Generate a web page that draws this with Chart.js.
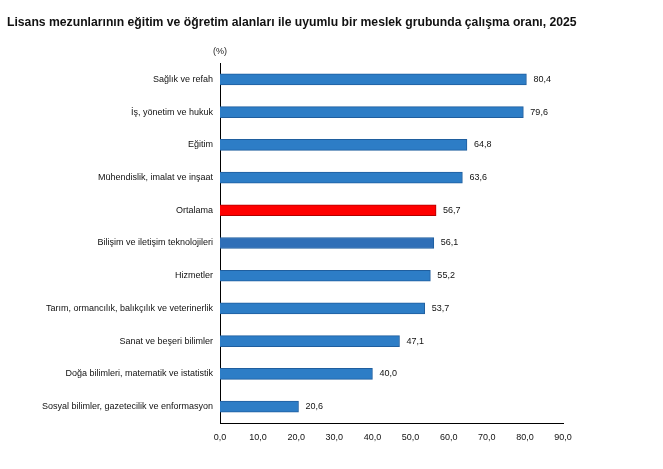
<!DOCTYPE html>
<html>
<head>
<meta charset="utf-8">
<script src="https://cdn.jsdelivr.net/npm/chart.js@4"></script>
<style>
  html, body { margin: 0; padding: 0; background: #fff; }
  #wrap { position: relative; width: 663px; height: 469px; overflow: hidden; }
  #title { position: absolute; left: 7px; top: 15px; font: bold 12.2px "Liberation Sans", Arial, sans-serif; color: #111; white-space: nowrap; }
  #unit { position: absolute; left: 213px; top: 46px; font: 9px "Liberation Sans", Arial, sans-serif; color: #222; }
  canvas { position: absolute; left: 0; top: 0; }
</style>
</head>
<body>
<div id="wrap">
  <canvas id="c" width="663" height="469"></canvas>
  <div id="title">Lisans mezunlarının eğitim ve öğretim alanları ile uyumlu bir meslek grubunda çalışma oranı, 2025</div>
  <div id="unit">(%)</div>
</div>
<script>
const categories = [
  "Sağlık ve refah",
  "İş, yönetim ve hukuk",
  "Eğitim",
  "Mühendislik, imalat ve inşaat",
  "Ortalama",
  "Bilişim ve iletişim teknolojileri",
  "Hizmetler",
  "Tarım, ormancılık, balıkçılık ve veterinerlik",
  "Sanat ve beşeri bilimler",
  "Doğa bilimleri, matematik ve istatistik",
  "Sosyal bilimler, gazetecilik ve enformasyon"
];
const values = [80.4, 79.6, 64.8, 63.6, 56.7, 56.1, 55.2, 53.7, 47.1, 40.0, 20.6];
const xTicks = [0, 10, 20, 30, 40, 50, 60, 70, 80, 90];

const BLUE = "#2D7DC6", BLUE_BORDER = "#1F5E9E";
const BLUE_DARK = "#2F6FB7";
const RED = "#FF0000", RED_BORDER = "#B00000";

function fillFor(label) {
  if (label === "Ortalama") return RED;
  if (label.startsWith("Bilişim")) return BLUE_DARK;
  return BLUE;
}
function borderFor(label) {
  return label === "Ortalama" ? RED_BORDER : BLUE_BORDER;
}
const fmt = v => Number(v).toFixed(1).replace(".", ",");
const FONT = "'Liberation Sans', Arial, sans-serif";

const valueLabels = {
  id: "valueLabels",
  afterDatasetsDraw(chart) {
    const ctx = chart.ctx;
    const meta = chart.getDatasetMeta(0);
    ctx.save();
    ctx.font = "9px " + FONT;
    ctx.fillStyle = "#111";
    ctx.textAlign = "left";
    ctx.textBaseline = "middle";
    meta.data.forEach((bar, i) => {
      ctx.fillText(fmt(values[i]), bar.x + 7, bar.y);
    });
    ctx.restore();
  }
};

new Chart(document.getElementById("c"), {
  type: "bar",
  data: {
    labels: categories,
    datasets: [{
      data: values,
      backgroundColor: categories.map(fillFor),
      borderColor: categories.map(borderFor),
      borderWidth: 1,
      borderSkipped: "left",
      barThickness: 11
    }]
  },
  options: {
    indexAxis: "y",
    responsive: false,
    animation: false,
    events: [],
    layout: { padding: { left: 0, right: 100, top: 63, bottom: 0 } },
    plugins: { legend: { display: false }, tooltip: { enabled: false }, title: { display: false } },
    scales: {
      y: {
        grid: { display: false, drawTicks: false },
        border: { display: true, color: "#000", width: 1 },
        ticks: { color: "#111", font: { family: FONT, size: 9 }, padding: 7 },
        afterFit(scale) { scale.width = 220; }
      },
      x: {
        min: 0, max: 90,
        afterBuildTicks(scale) { scale.ticks = xTicks.map(v => ({ value: v })); },
        grid: { display: false, drawTicks: false },
        border: { display: true, color: "#000", width: 1 },
        ticks: { color: "#111", font: { family: FONT, size: 9 }, padding: 9, maxRotation: 0, callback: v => fmt(v) },
        afterFit(scale) { scale.height = 46; }
      }
    }
  },
  plugins: [valueLabels]
});
</script>
</body>
</html>
